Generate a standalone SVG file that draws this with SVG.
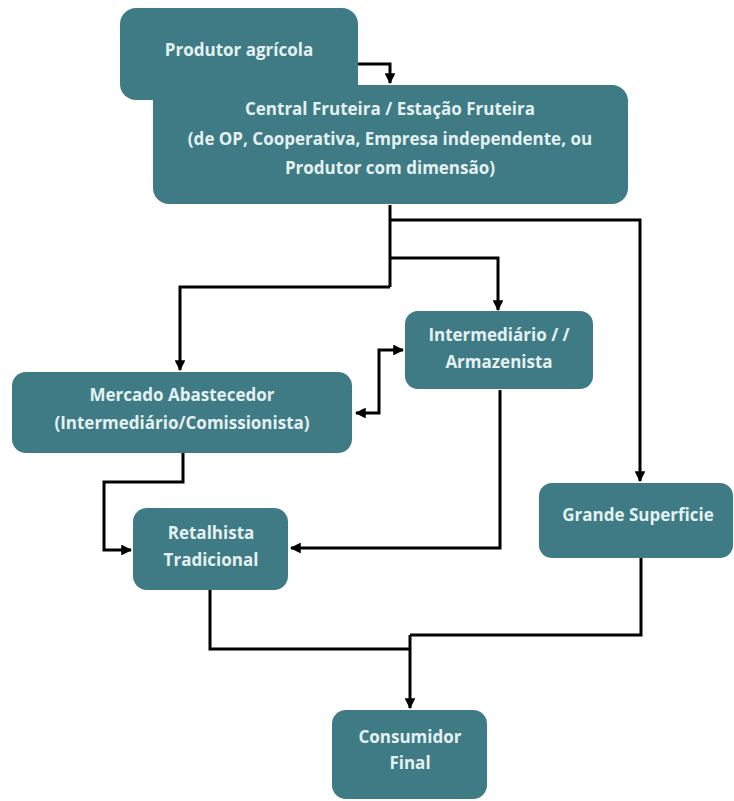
<svg xmlns="http://www.w3.org/2000/svg" width="734" height="801" viewBox="0 0 734 801">
<defs>
<marker id="ah" viewBox="0 0 10 10" refX="9" refY="5" markerWidth="3.6" markerHeight="3.6" orient="auto-start-reverse" markerUnits="strokeWidth">
<path d="M0,0 L10,5 L0,10 z" fill="#000"/>
</marker>
</defs>
<style>
.box{fill:#3e7b84;}
.t{font-family:"Open Sans","Liberation Sans",Arial,sans-serif;font-weight:bold;font-size:17px;fill:#e4f1f1;text-anchor:middle;}
.c{fill:none;stroke:#000;stroke-width:3;}
.ca{fill:none;stroke:#000;stroke-width:3;marker-end:url(#ah);}
.cb{fill:none;stroke:#000;stroke-width:3;marker-start:url(#ah);marker-end:url(#ah);}
</style>
<rect width="734" height="801" fill="#fff"/>
<g id="connectors">
<path class="ca" d="M358,64 H390 V83"/>
<path class="c" d="M390,205 V287"/>
<path class="ca" d="M390,220 H640 V481"/>
<path class="ca" d="M390,258 H498 V310"/>
<path class="ca" d="M390,287 H180 V370"/>
<path class="cb" d="M403,350 H379 V413 H356"/>
<path class="ca" d="M183,453 V482 H104 V550 H131"/>
<path class="ca" d="M500,390 V548 H291"/>
<path class="c" d="M210,590 V649 H410"/>
<path class="c" d="M641,558 V635 H410"/>
<path class="ca" d="M410,635 V708"/>
</g>
<g id="produtor">
<rect class="box" x="120" y="8" width="238" height="92" rx="16"/>
<text class="t" x="239" y="56">Produtor agrícola</text>
</g>
<g id="central">
<rect class="box" x="153" y="85" width="475" height="119" rx="16"/>
<text class="t" x="390" y="115">Central Fruteira / Estação Fruteira</text>
<text class="t" x="390" y="145">(de OP, Cooperativa, Empresa independente, ou</text>
<text class="t" x="390" y="174">Produtor com dimensão)</text>
</g>
<g id="intermediario">
<rect class="box" x="405" y="311" width="188" height="78" rx="13"/>
<text class="t" x="499" y="341">Intermediário / /</text>
<text class="t" x="499" y="368">Armazenista</text>
</g>
<g id="mercado">
<rect class="box" x="12" y="372" width="340" height="81" rx="14"/>
<text class="t" x="182" y="401">Mercado Abastecedor</text>
<text class="t" x="182" y="429">(Intermediário/Comissionista)</text>
</g>
<g id="retalhista">
<rect class="box" x="133" y="508" width="155" height="82" rx="14"/>
<text class="t" x="211" y="539">Retalhista</text>
<text class="t" x="211" y="566">Tradicional</text>
</g>
<g id="grande">
<rect class="box" x="539" y="483" width="194" height="75" rx="13"/>
<text class="t" x="638" y="521">Grande Superficie</text>
</g>
<g id="consumidor">
<rect class="box" x="332" y="710" width="155" height="89" rx="14"/>
<text class="t" x="410" y="743">Consumidor</text>
<text class="t" x="410" y="769">Final</text>
</g>
</svg>
